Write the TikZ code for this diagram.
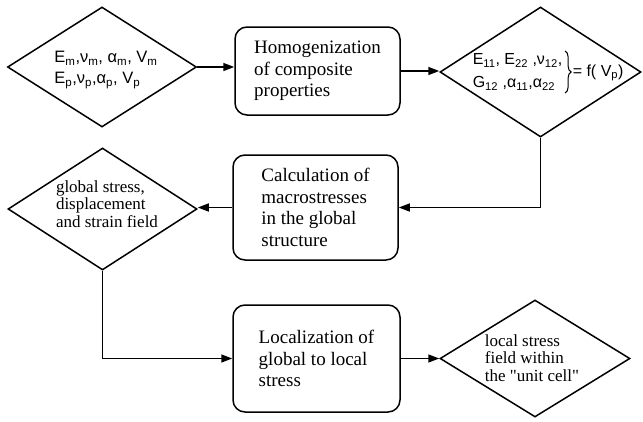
\documentclass[tikz,border=0pt]{standalone}
\usepackage{fontspec}
\setmainfont{Liberation Serif}[Ligatures=TeXOff]
\newfontfamily\sansf{Liberation Sans}
\usetikzlibrary{shapes.geometric,arrows.meta,decorations.pathreplacing}
\newcommand\sbs[1]{\textsubscript{#1}}
\begin{document}
\begin{tikzpicture}[x=1pt,y=-1pt, line width=1.5pt,
  dia/.style={diamond, draw, inner sep=0pt},
  rbox/.style={draw, rounded corners=12pt, inner sep=0pt},
  boxtxt/.style={align=left, inner sep=0pt, font=\fontsize{19}{21.5}\selectfont},
  diatxt/.style={align=left, inner sep=0pt, font=\fontsize{17}{17.5}\selectfont},
  sanstxt/.style={align=left, inner sep=0pt, font=\sansf\fontsize{16.5}{21}\selectfont},
  bracestyle/.style={decorate, decoration={brace, amplitude=6pt}, line width=1pt},
  arr/.style={-{Triangle[length=11pt,width=8pt]}}]
\useasboundingbox (0,0) rectangle (643,421);

% nodes
\node[dia, minimum width=189pt, minimum height=120pt] (d1) at (102,67) {};
\node[sanstxt] (t1) at (106,70) {E\sbs{m},ν\sbs{m}, α\sbs{m}, V\sbs{m}\\E\sbs{p},ν\sbs{p},α\sbs{p}, V\sbs{p}};

\node[rbox, minimum width=165pt, minimum height=88pt] (b1) at (317.5,71) {};
\node[boxtxt] (tb1) at (b1) {Homogenization\\of composite\\properties};

\node[dia, minimum width=201pt, minimum height=130pt] (d3) at (540.5,72) {};
\node[sanstxt, font=\sansf\fontsize{16}{23}\selectfont, anchor=west] (t3a) at (472,72)
  {E\sbs{11}, E\sbs{22} ,ν\sbs{12},\\G\sbs{12} ,α\sbs{11},α\sbs{22}};
\node[inner sep=0pt, font=\sansf\fontsize{16}{20}\selectfont, anchor=west] (t3b) at (572,73) {= f( V\sbs{p})};
\coordinate (bt) at ([xshift=2pt,yshift=2pt]t3a.north east);
\coordinate (bb) at ([xshift=2pt,yshift=-2pt]t3a.south east);
\draw[bracestyle] (bt) -- (bb);

\node[rbox, minimum width=165pt, minimum height=105pt] (b2) at (315.5,207.5) {};
\node[boxtxt] (tb2) at (b2) {Calculation of\\macrostresses\\in the global\\structure};

\node[dia, minimum width=189pt, minimum height=122pt] (d2) at (102.5,209) {};
\node[diatxt] (t2) at (107,204) {global stress,\\displacement\\and strain field};

\node[rbox, minimum width=167pt, minimum height=107pt] (b3) at (316.5,358.5) {};
\node[boxtxt] (tb3) at (b3) {Localization of\\global to local\\stress};

\node[dia, minimum width=190pt, minimum height=117pt] (d4) at (535,358.5) {};
\node[diatxt] (t4) at (532,358) {local stress\\field within\\the "unit cell"};

% connectors
\draw[arr] (d1.east) -- (d1.east -| b1.west);
\draw[arr] (b1.east) -- (b1.east -| d3.west);
\draw[arr] (d3.south) |- (b2.east);
\draw[arr] (b2.west) -- (b2.west -| d2.east);
\draw[arr] (d2.south) |- (b3.west);
\draw[arr] (b3.east) -- (d4.west);
\end{tikzpicture}
\end{document}
